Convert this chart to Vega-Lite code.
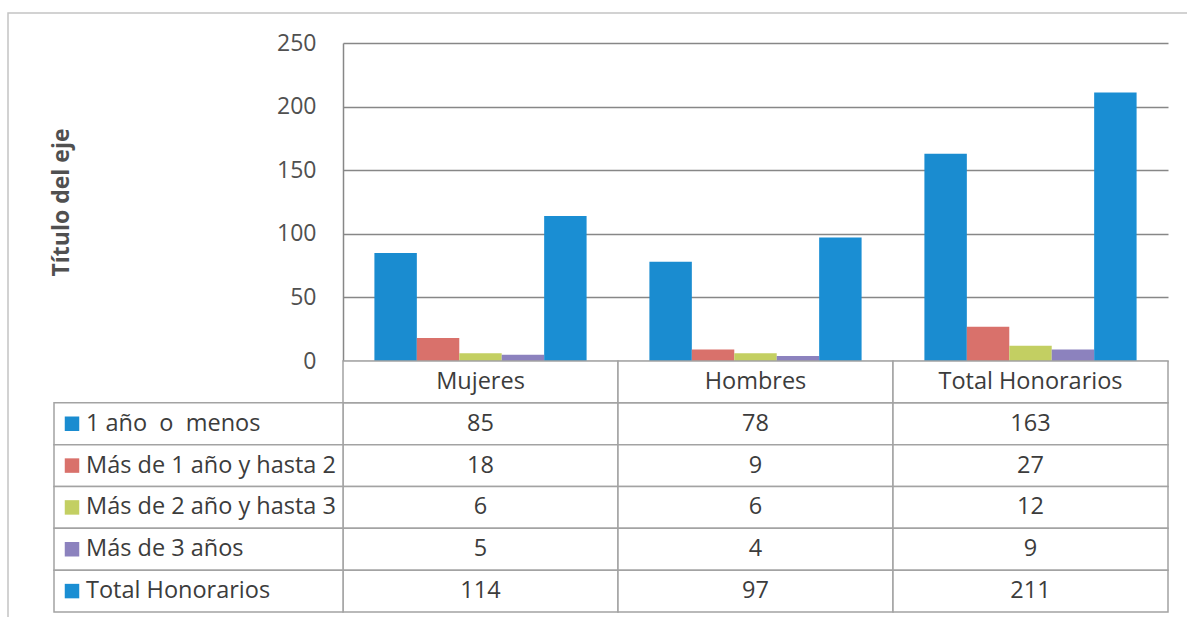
{
  "$schema": "https://vega.github.io/schema/vega-lite/v6.json",
  "width": 1179,
  "height": 604,
  "padding": {"left": 8, "top": 13, "right": 0, "bottom": 0},
  "autosize": {"type": "none"},
  "background": "white",
  "config": {
    "view": {"stroke": "#c4c4c4", "strokeWidth": 1.5, "strokeDash": [1179, 1783, 604, 1]},
    "font": "Open Sans"
  },
  "datasets": {
    "antiguedad": [
      {"grupo": "Mujeres", "tramo": "1 año \u00a0o \u00a0menos", "personas": 85},
      {"grupo": "Mujeres", "tramo": "Más de 1 año y hasta 2", "personas": 18},
      {"grupo": "Mujeres", "tramo": "Más de 2 año y hasta 3", "personas": 6},
      {"grupo": "Mujeres", "tramo": "Más de 3 años", "personas": 5},
      {"grupo": "Mujeres", "tramo": "Total Honorarios", "personas": 114},
      {"grupo": "Hombres", "tramo": "1 año \u00a0o \u00a0menos", "personas": 78},
      {"grupo": "Hombres", "tramo": "Más de 1 año y hasta 2", "personas": 9},
      {"grupo": "Hombres", "tramo": "Más de 2 año y hasta 3", "personas": 6},
      {"grupo": "Hombres", "tramo": "Más de 3 años", "personas": 4},
      {"grupo": "Hombres", "tramo": "Total Honorarios", "personas": 97},
      {"grupo": "Total Honorarios", "tramo": "1 año \u00a0o \u00a0menos", "personas": 163},
      {"grupo": "Total Honorarios", "tramo": "Más de 1 año y hasta 2", "personas": 27},
      {"grupo": "Total Honorarios", "tramo": "Más de 2 año y hasta 3", "personas": 12},
      {"grupo": "Total Honorarios", "tramo": "Más de 3 años", "personas": 9},
      {"grupo": "Total Honorarios", "tramo": "Total Honorarios", "personas": 211}
    ]
  },
  "data": {"name": "antiguedad"},
  "layer": [
    {
      "mark": {"type": "bar"},
      "encoding": {
        "x": {
          "field": "grupo",
          "type": "nominal",
          "scale": {"domain": ["Mujeres", "Hombres", "Total Honorarios"], "range": [335, 1160], "paddingInner": 0, "paddingOuter": 0},
          "axis": null
        },
        "xOffset": {
          "field": "tramo",
          "type": "nominal",
          "scale": {"domain": ["1 año \u00a0o \u00a0menos", "Más de 1 año y hasta 2", "Más de 2 año y hasta 3", "Más de 3 años", "Total Honorarios"], "paddingInner": 0, "paddingOuter": 0.74}
        },
        "y": {
          "field": "personas",
          "type": "quantitative",
          "scale": {"domain": [0, 250], "range": [348, 30], "nice": false},
          "axis": {
            "orient": "left",
            "offset": -335,
            "values": [0, 50, 100, 150, 200, 250],
            "ticks": false,
            "grid": true,
            "gridColor": "#878787",
            "gridWidth": 1.5,
            "domainColor": "#878787",
            "domainWidth": 1.5,
            "labelPadding": 27,
            "labelFont": "Open Sans",
            "labelFontSize": 23,
            "labelColor": "#505050",
            "title": "Título del eje",
            "titleFont": "Open Sans",
            "titleFontSize": 23,
            "titleFontWeight": "bold",
            "titleColor": "#505050",
            "titlePadding": 203
          }
        },
        "color": {
          "field": "tramo",
          "type": "nominal",
          "scale": {
            "domain": ["1 año \u00a0o \u00a0menos", "Más de 1 año y hasta 2", "Más de 2 año y hasta 3", "Más de 3 años", "Total Honorarios"],
            "range": ["#1a8cd0", "#d9716b", "#c3cf62", "#8c82be", "#1a8ed3"]
          },
          "legend": null
        }
      }
    },
    {
      "layer": [
        {
          "mark": {"type": "rect", "fill": "white", "stroke": "#a3a3a3", "strokeWidth": 1.5},
          "encoding": {
            "x": {"field": "grupo", "type": "nominal", "scale": {"domain": ["Mujeres", "Hombres", "Total Honorarios"], "range": [335, 1160], "paddingInner": 0, "paddingOuter": 0}, "axis": null},
            "y": {"field": "tramo", "type": "nominal", "scale": {"domain": ["encabezado", "1 año \u00a0o \u00a0menos", "Más de 1 año y hasta 2", "Más de 2 año y hasta 3", "Más de 3 años", "Total Honorarios"], "range": [348, 599], "paddingInner": 0, "paddingOuter": 0}, "axis": null}
          }
        },
        {
          "transform": [{"aggregate": [{"op": "count", "as": "n"}], "groupby": ["grupo"]}],
          "mark": {"type": "rect", "fill": "white", "stroke": "#a3a3a3", "strokeWidth": 1.5},
          "encoding": {
            "x": {"field": "grupo", "type": "nominal"},
            "y": {"datum": "encabezado", "type": "nominal"}
          }
        },
        {
          "mark": {"type": "text", "font": "Open Sans", "fontSize": 23.5, "color": "#3c3c3c", "baseline": "middle"},
          "encoding": {
            "x": {"field": "grupo", "type": "nominal"},
            "y": {"field": "tramo", "type": "nominal"},
            "text": {"field": "personas", "type": "quantitative"}
          }
        },
        {
          "transform": [{"aggregate": [{"op": "count", "as": "n"}], "groupby": ["grupo"]}],
          "mark": {"type": "text", "font": "Open Sans", "fontSize": 23.5, "color": "#3c3c3c", "baseline": "middle"},
          "encoding": {
            "x": {"field": "grupo", "type": "nominal"},
            "y": {"datum": "encabezado", "type": "nominal"},
            "text": {"field": "grupo", "type": "nominal"}
          }
        }
      ]
    },
    {
      "transform": [{"aggregate": [{"op": "count", "as": "n"}], "groupby": ["tramo"]}],
      "layer": [
        {
          "mark": {"type": "rect", "fill": "white", "stroke": "#a3a3a3", "strokeWidth": 1.5},
          "encoding": {
            "x": {"datum": "leyenda", "type": "nominal", "scale": {"domain": ["leyenda"], "range": [46, 335], "paddingInner": 0, "paddingOuter": 0}, "axis": null},
            "y": {"field": "tramo", "type": "nominal", "scale": {"domain": ["encabezado", "1 año \u00a0o \u00a0menos", "Más de 1 año y hasta 2", "Más de 2 año y hasta 3", "Más de 3 años", "Total Honorarios"], "range": [348, 599], "paddingInner": 0, "paddingOuter": 0}, "axis": null}
          }
        },
        {
          "mark": {"type": "square", "size": 210, "opacity": 1, "xOffset": 18},
          "encoding": {
            "x": {"datum": "leyenda", "type": "nominal", "bandPosition": 0},
            "y": {"field": "tramo", "type": "nominal"},
            "color": {"field": "tramo", "type": "nominal", "legend": null}
          }
        },
        {
          "mark": {"type": "text", "font": "Open Sans", "fontSize": 23.5, "color": "#3c3c3c", "align": "left", "baseline": "middle", "dx": 32},
          "encoding": {
            "x": {"datum": "leyenda", "type": "nominal", "bandPosition": 0},
            "y": {"field": "tramo", "type": "nominal"},
            "text": {"field": "tramo", "type": "nominal"}
          }
        }
      ]
    }
  ],
  "resolve": {"scale": {"x": "independent", "y": "independent"}}
}
